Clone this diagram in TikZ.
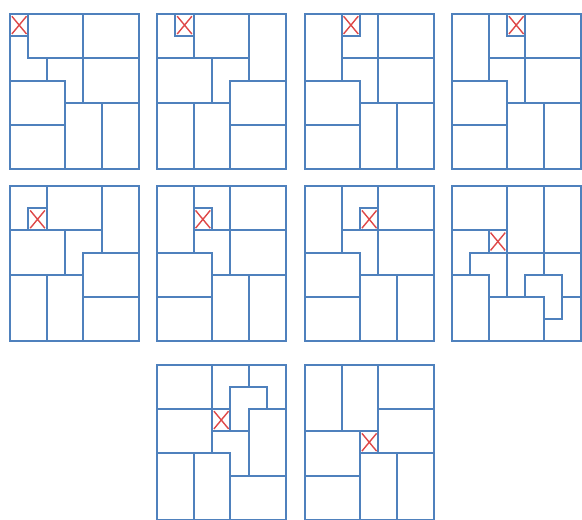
\documentclass[tikz,border=0pt]{standalone}
\usepackage{xcolor}
\usepackage{tikz}
\definecolor{boardblue}{RGB}{79,129,189}
\definecolor{holered}{RGB}{222,72,72}
\tikzset{
  panel/.style 2 args={shift={(#1pt,-#2pt)}, x=18.36pt, y=-22.21pt},
  boardframe/.style={draw=boardblue, line width=2pt},
  wall/.style={draw=boardblue, line width=2pt, line cap=rect},
  holecross/.style={draw=holered, line width=1.4pt},
}
\newcommand{\markhole}[2]{\draw[holecross] (#1+0.1,#2+0.1) -- (#1+0.9,#2+0.9) (#1+0.9,#2+0.1) -- (#1+0.1,#2+0.9);}

\begin{document}
\begin{tikzpicture}
\useasboundingbox (0pt,0pt) rectangle (582pt,-520pt);

% row 1
\begin{scope}[panel={10}{14}]
  \draw[boardframe] (0,0) rectangle (7,7);
  \draw[wall] (1,0) -- (1,2) (0,1) -- (1,1) (1,2) -- (7,2) (2,2) -- (2,3)
    (0,3) -- (3,3) (3,3) -- (3,7) (4,0) -- (4,4) (3,4) -- (7,4)
    (0,5) -- (3,5) (5,4) -- (5,7);
  \markhole{0}{0}
\end{scope}
\begin{scope}[panel={157}{14}]
  \draw[boardframe] (0,0) rectangle (7,7);
  \draw[wall] (1,0) -- (1,1) -- (2,1) (2,0) -- (2,2) (0,2) -- (5,2) (5,0) -- (5,3)
    (3,2) -- (3,4) (4,3) -- (7,3) (4,3) -- (4,7) (0,4) -- (4,4)
    (2,4) -- (2,7) (4,5) -- (7,5);
  \markhole{1}{0}
\end{scope}
\begin{scope}[panel={305}{14}]
  \draw[boardframe] (0,0) rectangle (7,7);
  \draw[wall] (2,0) -- (2,3) (3,0) -- (3,1) -- (2,1) (4,0) -- (4,4) (2,2) -- (7,2)
    (0,3) -- (3,3) (3,3) -- (3,7) (3,4) -- (7,4) (0,5) -- (3,5) (5,4) -- (5,7);
  \markhole{2}{0}
\end{scope}
\begin{scope}[panel={452}{14}]
  \draw[boardframe] (0,0) rectangle (7,7);
  \draw[wall] (2,0) -- (2,3) (3,0) -- (3,1) -- (4,1) (4,0) -- (4,4) (2,2) -- (7,2)
    (0,3) -- (3,3) (3,3) -- (3,7) (3,4) -- (7,4) (0,5) -- (3,5) (5,4) -- (5,7);
  \markhole{3}{0}
\end{scope}

% row 2
\begin{scope}[panel={10}{186}]
  \draw[boardframe] (0,0) rectangle (7,7);
  \draw[wall] (1,2) -- (1,1) -- (2,1) (2,0) -- (2,2) (0,2) -- (5,2) (5,0) -- (5,3)
    (3,2) -- (3,4) (4,3) -- (7,3) (4,3) -- (4,7) (0,4) -- (4,4)
    (2,4) -- (2,7) (4,5) -- (7,5);
  \markhole{1}{1}
\end{scope}
\begin{scope}[panel={157}{186}]
  \draw[boardframe] (0,0) rectangle (7,7);
  \draw[wall] (2,0) -- (2,3) (2,1) -- (3,1) -- (3,2) (4,0) -- (4,4) (2,2) -- (7,2)
    (0,3) -- (3,3) (3,3) -- (3,7) (3,4) -- (7,4) (0,5) -- (3,5) (5,4) -- (5,7);
  \markhole{2}{1}
\end{scope}
\begin{scope}[panel={305}{186}]
  \draw[boardframe] (0,0) rectangle (7,7);
  \draw[wall] (2,0) -- (2,3) (3,2) -- (3,1) -- (4,1) (4,0) -- (4,4) (2,2) -- (7,2)
    (0,3) -- (3,3) (3,3) -- (3,7) (3,4) -- (7,4) (0,5) -- (3,5) (5,4) -- (5,7);
  \markhole{3}{1}
\end{scope}
\begin{scope}[panel={452}{186}]
  \draw[boardframe] (0,0) rectangle (7,7);
  \draw[wall] (0,2) -- (3,2) (3,0) -- (3,5) (5,0) -- (5,4) (2,2) -- (2,3)
    (1,3) -- (7,3) (1,3) -- (1,4) -- (0,4) (1,4) -- (2,4) (2,4) -- (2,7)
    (2,5) -- (5,5) (6,5) -- (7,5) (4,5) -- (4,4) -- (6,4) -- (6,6) -- (5,6)
    (5,5) -- (5,7);
  \markhole{2}{2}
\end{scope}

% row 3
\begin{scope}[panel={157}{364.5}]
  \draw[boardframe] (0,0) rectangle (7,7);
  \draw[wall] (0,2) -- (3,2) (3,0) -- (3,4) (5,0) -- (5,1) (4,3) -- (4,1) -- (6,1) -- (6,2)
    (5,2) -- (7,2) (5,2) -- (5,5) (3,2) -- (4,2) (3,3) -- (5,3)
    (0,4) -- (4,4) (4,4) -- (4,7) (2,4) -- (2,7) (4,5) -- (7,5);
  \markhole{3}{2}
\end{scope}
\begin{scope}[panel={305}{364.5}]
  \draw[boardframe] (0,0) rectangle (7,7);
  \draw[wall] (2,0) -- (2,3) (4,0) -- (4,4) (4,2) -- (7,2) (0,3) -- (4,3)
    (3,3) -- (3,7) (3,4) -- (7,4) (0,5) -- (3,5) (5,4) -- (5,7);
  \markhole{3}{3}
\end{scope}
\end{tikzpicture}
\end{document}
